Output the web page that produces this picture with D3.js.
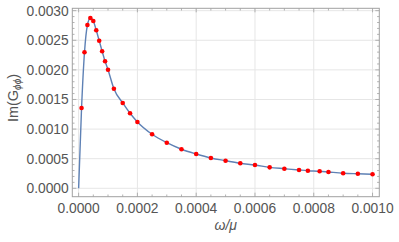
<!DOCTYPE html>
<html>
<head>
<meta charset="utf-8">
<script src="https://cdn.jsdelivr.net/npm/d3@7"></script>
<style>
  body { margin: 0; background: #fff; }
  text { font-family: "Liberation Sans", Arial, sans-serif; }
</style>
</head>
<body>
<svg width="399" height="242"></svg>
<script>
// data points (omega / mu, Im G)
var omega = [0.00001, 0.00002, 0.00003, 0.00004, 0.00005, 0.00006, 0.00007, 0.00008, 0.00009, 0.0001,
             0.00012, 0.00015, 0.000175, 0.0002, 0.00025, 0.0003, 0.00035, 0.0004, 0.00045, 0.0005,
             0.00055, 0.0006, 0.00065, 0.0007, 0.00075, 0.00078, 0.00082, 0.00085, 0.0009, 0.00095, 0.001];
var imG = [0.001356, 0.002297, 0.002758, 0.002877, 0.002826, 0.002669, 0.002493, 0.002314, 0.002145, 0.002003,
           0.001682, 0.001441, 0.001267, 0.001120, 0.000912, 0.000770, 0.000659, 0.000579, 0.000512, 0.000466,
           0.000422, 0.000394, 0.000354, 0.000331, 0.000309, 0.000297, 0.000287, 0.000275, 0.000255, 0.000245, 0.000236];

// curve starts at the origin
var lineOmega = [0].concat(omega);
var lineImG = [0].concat(imG);

var xTicks = [0, 0.0002, 0.0004, 0.0006, 0.0008, 0.001];
var yTicks = [0, 0.0005, 0.001, 0.0015, 0.002, 0.0025, 0.003];

var svg = d3.select("svg");

var x = d3.scaleLinear().domain([-0.0000215, 0.001023]).range([72.3, 379.3]);
var y = d3.scaleLinear().domain([-0.000142, 0.00304]).range([196.7, 8.3]);

var x0 = 72.3, x1 = 379.3, y0 = 196.7, y1 = 8.3;
var fmt = d3.format(".4f");
var gridCol = "#e6e6e6", frameCol = "#a0a0a0", textCol = "#555";

// grid
svg.selectAll(".gx").data(xTicks).enter().append("line")
   .attr("x1", function(d){ return x(d); }).attr("x2", function(d){ return x(d); })
   .attr("y1", y0).attr("y2", y1)
   .style("stroke", gridCol).style("stroke-width", 1);
svg.selectAll(".gy").data(yTicks).enter().append("line")
   .attr("x1", x0).attr("x2", x1)
   .attr("y1", function(d){ return y(d); }).attr("y2", function(d){ return y(d); })
   .style("stroke", gridCol).style("stroke-width", 1);

// minor ticks
var xMinor = d3.range(0, 0.00100001, 0.00005).filter(function(d){ return Math.abs(d / 0.0002 - Math.round(d / 0.0002)) > 1e-6; });
var yMinor = d3.range(0, 0.0030001, 0.0001).filter(function(d){ return Math.abs(d / 0.0005 - Math.round(d / 0.0005)) > 1e-6; });

var ticks = svg.append("g").style("stroke", frameCol).style("stroke-width", 0.8);
function xt(vals, len) {
  vals.forEach(function(d) {
    ticks.append("line").attr("x1", x(d)).attr("x2", x(d)).attr("y1", y0).attr("y2", y0 - len);
    ticks.append("line").attr("x1", x(d)).attr("x2", x(d)).attr("y1", y1).attr("y2", y1 + len);
  });
}
function yt(vals, len) {
  vals.forEach(function(d) {
    ticks.append("line").attr("y1", y(d)).attr("y2", y(d)).attr("x1", x0).attr("x2", x0 + len);
    ticks.append("line").attr("y1", y(d)).attr("y2", y(d)).attr("x1", x1).attr("x2", x1 - len);
  });
}
xt(xTicks, 4); xt(xMinor, 2.2);
yt(yTicks, 4); yt(yMinor, 2.2);

// frame
svg.append("rect")
   .attr("x", x0).attr("y", y1).attr("width", x1 - x0).attr("height", y0 - y1)
   .style("fill", "none").style("stroke", frameCol).style("stroke-width", 1);

// tick labels
svg.selectAll(".xl").data(xTicks).enter().append("text")
   .attr("x", function(d){ return x(d); }).attr("y", y0 + 16.3)
   .attr("text-anchor", "middle")
   .style("font-size", "13.8px").style("fill", textCol)
   .text(function(d){ return fmt(d); });
svg.selectAll(".yl").data(yTicks).enter().append("text")
   .attr("x", x0 - 3.6).attr("y", function(d){ return y(d) + 4.9; })
   .attr("text-anchor", "end")
   .style("font-size", "13.8px").style("fill", textCol)
   .text(function(d){ return fmt(d); });

// curve
var line = d3.line()
   .curve(d3.curveMonotoneX)
   .x(function(d){ return x(d[0]); })
   .y(function(d){ return y(d[1]); });

svg.append("path")
   .datum(d3.zip(lineOmega, lineImG))
   .attr("d", line)
   .style("fill", "none")
   .style("stroke", "#5e81b5")
   .style("stroke-width", 1.4);

// points
svg.selectAll(".pt").data(d3.zip(omega, imG)).enter().append("circle")
   .attr("cx", function(d){ return x(d[0]); })
   .attr("cy", function(d){ return y(d[1]); })
   .attr("r", 2.3)
   .style("fill", "#ff0000");

// axis labels
svg.append("text")
   .attr("x", (x0 + x1) / 2).attr("y", 230)
   .attr("text-anchor", "middle")
   .style("font-size", "14px").style("font-style", "italic").style("fill", textCol)
   .text("ω/μ");

var yl = svg.append("text")
   .attr("transform", "translate(18,98) rotate(-90)")
   .attr("text-anchor", "middle")
   .style("font-size", "14.5px").style("fill", textCol);
yl.append("tspan").text("Im(G");
yl.append("tspan").attr("dy", 3).style("font-size", "10px").style("font-style", "italic").text("ϕϕ");
yl.append("tspan").attr("dy", -3).text(")");
</script>
</body>
</html>
